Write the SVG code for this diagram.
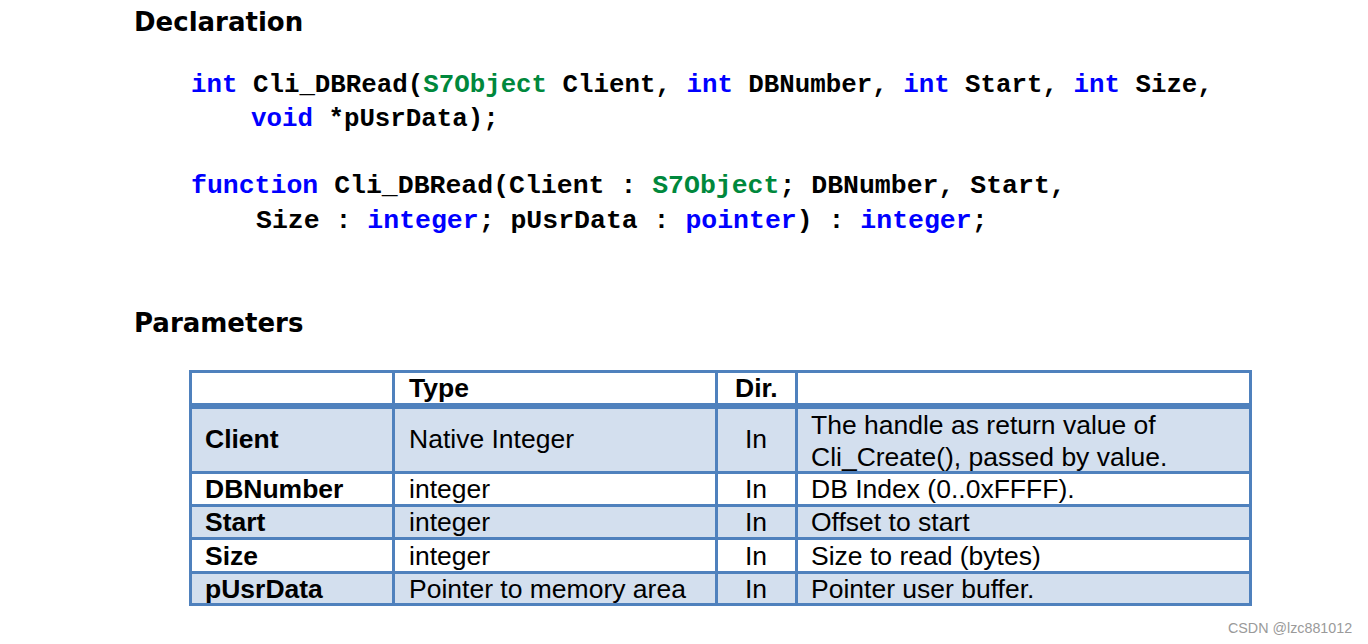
<svg xmlns="http://www.w3.org/2000/svg" width="1368" height="644" viewBox="0 0 1368 644">
<style>
.h{font-family:"DejaVu Sans",Verdana,sans-serif;font-weight:bold;font-size:26px;fill:#000}
.c{font-family:"Liberation Mono","Courier New",monospace;font-weight:bold;font-size:25.8px;fill:#000;white-space:pre}
.c2{font-size:26.5px}
.k{fill:#0000ff}
.g{fill:#00883c}
.t{font-family:"Liberation Sans",Arial,sans-serif;font-size:26.5px;fill:#000}
.b{font-weight:bold}
.shade{fill:#d3dfee}
.ln{stroke:#4f81bd;stroke-width:3;fill:none}
.wm{font-family:"Liberation Sans",Arial,sans-serif;font-size:14.3px;fill:#9a9a9a}
</style>
<rect width="1368" height="644" fill="#fff"/>
<g id="declaration">
<text class="h" x="134" y="31">Declaration</text>
<text class="c" x="191" y="92" xml:space="preserve"><tspan class="k">int</tspan> Cli_DBRead(<tspan class="g">S7Object</tspan> Client, <tspan class="k">int</tspan> DBNumber, <tspan class="k">int</tspan> Start, <tspan class="k">int</tspan> Size,</text>
<text class="c" x="251" y="126" xml:space="preserve"><tspan class="k">void</tspan> *pUsrData);</text>
<text class="c c2" x="191" y="193" xml:space="preserve"><tspan class="k">function</tspan> Cli_DBRead(Client : <tspan class="g">S7Object</tspan>; DBNumber, Start,</text>
<text class="c c2" x="256" y="228" xml:space="preserve">Size : <tspan class="k">integer</tspan>; pUsrData : <tspan class="k">pointer</tspan>) : <tspan class="k">integer</tspan>;</text>
</g>
<g id="parameters">
<text class="h" x="134" y="332">Parameters</text>
</g>
<g id="table">
<rect class="shade" x="190" y="407" width="1061" height="65"/>
<rect class="shade" x="190" y="505" width="1061" height="33"/>
<rect class="shade" x="190" y="572" width="1061" height="33"/>
<g class="ln">
<rect x="190.5" y="371.5" width="1060" height="233"/>
<line x1="190" y1="406" x2="1251" y2="406" stroke-width="6"/>
<line x1="190" y1="472.5" x2="1251" y2="472.5"/>
<line x1="190" y1="505.5" x2="1251" y2="505.5"/>
<line x1="190" y1="538.5" x2="1251" y2="538.5"/>
<line x1="190" y1="572.5" x2="1251" y2="572.5"/>
<line x1="393.5" y1="371" x2="393.5" y2="605"/>
<line x1="716.5" y1="371" x2="716.5" y2="605"/>
<line x1="796.5" y1="371" x2="796.5" y2="605"/>
</g>
<g id="row-header">
<text class="t b" x="409" y="397">Type</text>
<text class="t b" x="735" y="397">Dir.</text>
</g>
<g id="row-client">
<text class="t b" x="205" y="448">Client</text>
<text class="t" x="409" y="448">Native Integer</text>
<text class="t" x="745" y="448">In</text>
<text class="t" x="811" y="434">The handle as return value of</text>
<text class="t" x="811" y="466">Cli_Create(), passed by value.</text>
</g>
<g id="row-dbnumber">
<text class="t b" x="205" y="498">DBNumber</text>
<text class="t" x="409" y="498">integer</text>
<text class="t" x="745" y="498">In</text>
<text class="t" x="811" y="498">DB Index (0..0xFFFF).</text>
</g>
<g id="row-start">
<text class="t b" x="205" y="531">Start</text>
<text class="t" x="409" y="531">integer</text>
<text class="t" x="745" y="531">In</text>
<text class="t" x="811" y="531">Offset to start</text>
</g>
<g id="row-size">
<text class="t b" x="205" y="565">Size</text>
<text class="t" x="409" y="565">integer</text>
<text class="t" x="745" y="565">In</text>
<text class="t" x="811" y="565">Size to read (bytes)</text>
</g>
<g id="row-pusrdata">
<text class="t b" x="205" y="598">pUsrData</text>
<text class="t" x="409" y="598">Pointer to memory area</text>
<text class="t" x="745" y="598">In</text>
<text class="t" x="811" y="598">Pointer user buffer.</text>
</g>
</g>
<text class="wm" x="1228" y="633">CSDN @lzc881012</text>
</svg>
